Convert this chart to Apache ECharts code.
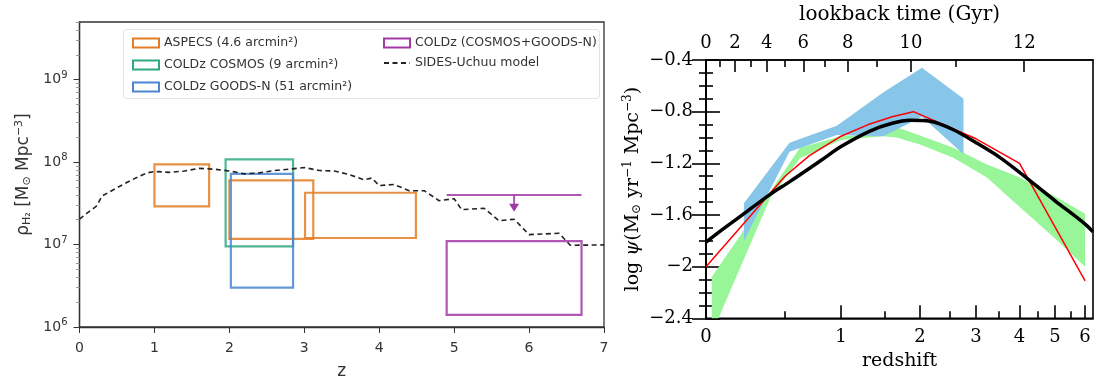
<!DOCTYPE html>
<html>
<head>
<meta charset="utf-8">
<script src="https://cdn.jsdelivr.net/npm/echarts@6.0.0/dist/echarts.min.js"></script>
<style>
  html, body { margin: 0; padding: 0; background: #fff; }
  #chart { width: 1097px; height: 385px; }
</style>
</head>
<body>
<div id="chart"></div>
<script>
// ---- left panel: molecular gas density (boxes are [zmin, zmax] x [rhoMin, rhoMax])
var aspecsZ = [[1.0, 1.73], [2.0, 3.12], [3.01, 4.49]];
var aspecsRho = [[2.9e7, 9.4e7], [1.17e7, 6.0e7], [1.2e7, 4.25e7]];
var cosmosZ = [[1.95, 2.85]];
var cosmosRho = [[9.5e6, 1.08e8]];
var goodsZ = [[2.02, 2.85]];
var goodsRho = [[3.0e6, 7.2e7]];
var combinedZ = [[4.9, 6.7]];
var combinedRho = [[1.4e6, 1.1e7]];
var limitZ = [4.9, 6.7];
var limitRho = 4.0e7;
var arrowZ = 5.8;
var arrowTipRho = 2.8e7;

var sidesZ = [0, 0.1, 0.23, 0.3, 0.5, 0.7, 0.9, 1.0, 1.2, 1.4, 1.6, 1.8, 2.0, 2.2, 2.4, 2.6, 2.8, 3.0,
  3.2, 3.4, 3.6, 3.8, 3.9, 4.0, 4.2, 4.4, 4.6, 4.8, 5.0, 5.1, 5.4, 5.6, 5.8, 6.0, 6.4, 6.55, 7.0];
var sidesRho = [2.03e7, 2.4e7, 2.94e7, 3.87e7, 4.88e7, 6.1e7, 7.4e7, 7.7e7, 7.5e7, 7.8e7, 8.4e7, 8.2e7,
  7.8e7, 7.2e7, 7.4e7, 7.9e7, 8.2e7, 8.6e7, 7.9e7, 7.8e7, 7.05e7, 6.1e7, 6.4e7, 5.2e7, 5.35e7, 4.5e7,
  4.5e7, 3.4e7, 3.6e7, 2.65e7, 2.75e7, 1.94e7, 2.03e7, 1.32e7, 1.37e7, 9.8e6, 9.9e6];

var rhoMajor = [1e6, 1e7, 1e8, 1e9];
var rhoMinor = [];
[1e6, 1e7, 1e8, 1e9].forEach(function (d) {
  for (var k = 2; k <= 9; k++) { if (k * d <= 5e9) rhoMinor.push(k * d); }
});

// ---- right panel: star formation rate density vs redshift
var blueZ = [0.215, 0.535, 0.957, 1.487, 2.03, 2.75];
var blueHi = [-1.51, -1.04, -0.91, -0.65, -0.46, -0.70];
var blueLo = [-1.80, -1.11, -0.98, -0.99, -0.84, -1.13];

var greenZ = [0.03, 0.39, 0.62, 1.0, 1.49, 1.66, 2.0, 2.56, 3.23, 4.01, 4.95, 6.0];
var greenHi = [-2.08, -1.42, -1.08, -0.99, -0.97, -0.92, -0.985, -1.08, -1.21, -1.31, -1.45, -1.59];
var greenLo = [-2.52, -1.47, -1.16, -1.02, -0.99, -1.0, -1.054, -1.156, -1.31, -1.54, -1.77, -2.0];

var redZ = [0, 0.5, 0.7, 1.0, 1.3, 1.6, 1.9, 3.0, 4.0, 6.0];
var redPsi = [-2.0, -1.30, -1.14, -0.99, -0.90, -0.84, -0.80, -1.01, -1.2, -2.11];

var blackZ = [0, 0.1, 0.215, 0.39, 0.54, 0.8, 1.0, 1.32, 1.6, 1.85, 2.16, 2.56, 3.0, 3.5, 4.0, 5.0, 6.0, 6.29];
var blackPsi = [-1.81, -1.70, -1.59, -1.44, -1.34, -1.18, -1.07, -0.95, -0.89, -0.867, -0.875, -0.94,
  -1.04, -1.15, -1.27, -1.49, -1.67, -1.73];

var zMajor = [0, 1, 2, 3, 4, 5, 6];
var zMinor = [0.5, 1.5, 2.5, 3.5, 4.5, 5.5];
var lookbackMajor = [0, 2, 4, 6, 8, 10, 12];
var lookbackMajorZ = [0, 0.16, 0.366, 0.648, 1.07, 1.864, 4.12];
var lookbackMinorZ = [0.0745, 0.258, 0.5, 0.836, 1.404, 2.61];
var zMax = 6.29;

var toX = function (z) { return Math.log10(1 + z); };

var colors = {
  aspecs: '#e37c26', cosmos: '#2fa983', goods: '#4a86d1', combined: '#a23aa6',
  blue: '#87c6e8', green: '#98f598'
};

function boxSeries(name, zs, rhos, color) {
  return {
    name: name, type: 'custom', xAxisIndex: 0, yAxisIndex: 0,
    data: zs.map(function (z, i) { return [z[0], z[1], rhos[i][0], rhos[i][1]]; }),
    encode: { x: [0, 1], y: [2, 3] },
    itemStyle: { color: color },
    renderItem: function (params, api) {
      var p0 = api.coord([api.value(0), api.value(3)]);
      var p1 = api.coord([api.value(1), api.value(2)]);
      return {
        type: 'rect',
        shape: { x: p0[0], y: p0[1], width: p1[0] - p0[0], height: p1[1] - p0[1] },
        style: { fill: 'none', stroke: color, lineWidth: 2.2, opacity: 0.85 }
      };
    }
  };
}

function bandSeries(zs, hi, lo, color) {
  var pts = [];
  zs.forEach(function (z, i) { pts.push([toX(z), hi[i]]); });
  for (var i = zs.length - 1; i >= 0; i--) pts.push([toX(zs[i]), lo[i]]);
  return {
    type: 'custom', xAxisIndex: 1, yAxisIndex: 2, clip: true, silent: true,
    data: pts,
    renderItem: function (params, api) {
      if (params.dataIndex !== 0) return null;
      return {
        type: 'polygon',
        shape: { points: pts.map(function (p) { return api.coord(p); }) },
        style: { fill: color }
      };
    }
  };
}

var fontL = 'DejaVu Sans';
var fontR = 'DejaVu Serif';
var ink = '#333';

var chart = echarts.init(document.getElementById('chart'));

var option = {
  animation: false,
  backgroundColor: '#fff',
  grid: [
    { left: 79.5, top: 22, width: 524.5, height: 309, show: true, borderColor: ink, borderWidth: 1.3 },
    { left: 706, top: 58.3, width: 387, height: 260, show: true, borderColor: '#000', borderWidth: 1.6 }
  ],
  graphic: [{
    type: 'rect', left: 123, top: 29, z: 1,
    shape: { width: 476, height: 69, r: 3 },
    style: { fill: 'rgba(255,255,255,0.85)', stroke: '#e4e4e4', lineWidth: 1 }
  }],
  legend: [
    {
      left: 127, top: 31, orient: 'vertical', itemWidth: 26, itemHeight: 9, itemGap: 8, itemTextGap: 10,
      textStyle: { fontFamily: fontL, fontSize: 12.5, color: ink, lineHeight: 14 },
      data: [
        { name: 'ASPECS (4.6 arcmin²)', icon: 'rect', itemStyle: { color: '#fff', borderColor: colors.aspecs, borderWidth: 2 } },
        { name: 'COLDz COSMOS (9 arcmin²)', icon: 'rect', itemStyle: { color: '#fff', borderColor: colors.cosmos, borderWidth: 2 } },
        { name: 'COLDz GOODS-N (51 arcmin²)', icon: 'rect', itemStyle: { color: '#fff', borderColor: colors.goods, borderWidth: 2 } }
      ]
    },
    {
      left: 378, top: 31, orient: 'vertical', itemWidth: 26, itemHeight: 9, itemGap: 6, itemTextGap: 10,
      textStyle: { fontFamily: fontL, fontSize: 12.5, color: ink, lineHeight: 14 },
      data: [
        { name: 'COLDz (COSMOS+GOODS-N)', icon: 'rect', itemStyle: { color: '#fff', borderColor: colors.combined, borderWidth: 2 } },
        { name: 'SIDES-Uchuu model', itemStyle: { color: 'rgba(0,0,0,0)', borderWidth: 0, opacity: 0 } }
      ]
    }
  ],
  xAxis: [
    {
      gridIndex: 0, type: 'value', min: 0, max: 7, interval: 1,
      axisLine: { lineStyle: { color: ink, width: 1.3 } },
      axisTick: { length: 6, lineStyle: { color: ink } },
      axisLabel: { fontFamily: fontL, fontSize: 14, color: ink, margin: 14 },
      splitLine: { show: false },
      name: 'z', nameLocation: 'middle', nameGap: 36,
      nameTextStyle: { fontFamily: fontL, fontSize: 17, color: ink }
    },
    {
      gridIndex: 1, type: 'value', min: 0, max: toX(zMax), position: 'bottom',
      axisLine: { lineStyle: { color: '#000', width: 1.6 } },
      axisTick: { inside: true, length: 13, customValues: zMajor.map(toX), lineStyle: { color: '#000', width: 1.6 } },
      axisLabel: {
        customValues: zMajor.map(toX), margin: 10, fontFamily: fontR, fontSize: 18, color: '#000',
        formatter: function (v) { return String(Math.round(Math.pow(10, v) - 1)); }
      },
      splitLine: { show: false },
      name: 'redshift', nameLocation: 'middle', nameGap: 31,
      nameTextStyle: { fontFamily: fontR, fontSize: 19, color: '#000' }
    },
    {
      gridIndex: 1, type: 'value', min: 0, max: toX(zMax), position: 'bottom',
      axisLine: { show: false },
      axisTick: { inside: true, length: 7, customValues: zMinor.map(toX), lineStyle: { color: '#000', width: 1.6 } },
      axisLabel: { show: false }, splitLine: { show: false }
    },
    {
      gridIndex: 1, type: 'value', min: 0, max: toX(zMax), position: 'top',
      axisLine: { lineStyle: { color: '#000', width: 1.6 } },
      axisTick: { inside: true, length: 12, customValues: lookbackMajorZ.map(toX), lineStyle: { color: '#000', width: 1.6 } },
      axisLabel: {
        customValues: lookbackMajorZ.map(toX), margin: 8, fontFamily: fontR, fontSize: 18, color: '#000',
        formatter: function (v) {
          for (var i = 0; i < lookbackMajorZ.length; i++) {
            if (Math.abs(toX(lookbackMajorZ[i]) - v) < 1e-6) return String(lookbackMajor[i]);
          }
          return '';
        }
      },
      splitLine: { show: false },
      name: 'lookback time (Gyr)', nameLocation: 'middle', nameGap: 35,
      nameTextStyle: { fontFamily: fontR, fontSize: 20, color: '#000' }
    },
    {
      gridIndex: 1, type: 'value', min: 0, max: toX(zMax), position: 'top',
      axisLine: { show: false },
      axisTick: { inside: true, length: 7, customValues: lookbackMinorZ.map(toX), lineStyle: { color: '#000', width: 1.6 } },
      axisLabel: { show: false }, splitLine: { show: false }
    }
  ],
  yAxis: [
    {
      gridIndex: 0, type: 'log', logBase: 10, min: 1e6, max: 5e9, position: 'left',
      axisLine: { lineStyle: { color: ink, width: 1.3 } },
      axisTick: { length: 6, customValues: rhoMajor, lineStyle: { color: ink } },
      axisLabel: {
        customValues: rhoMajor, margin: 12,
        formatter: function (v) { return '{b|10}{s|' + Math.round(Math.log10(v)) + '}'; },
        rich: {
          b: { fontFamily: fontL, fontSize: 14, color: ink },
          s: { fontFamily: fontL, fontSize: 10, color: ink, padding: [0, 0, 9, 0] }
        }
      },
      splitLine: { show: false },
      name: '{t|ρ}{sub|H₂}{t| [M}{sub|⊙}{t| Mpc}{sup|−3}{t|]}',
      nameLocation: 'middle', nameGap: 46, nameRotate: 90,
      nameTextStyle: {
        rich: {
          t: { fontFamily: fontL, fontSize: 17, color: ink },
          sub: { fontFamily: fontL, fontSize: 11, color: ink, padding: [8, 0, 0, 0] },
          sup: { fontFamily: fontL, fontSize: 11, color: ink, padding: [0, 0, 9, 0] }
        }
      }
    },
    {
      gridIndex: 0, type: 'log', logBase: 10, min: 1e6, max: 5e9, position: 'left',
      axisLine: { show: false },
      axisTick: { length: 3.5, customValues: rhoMinor, lineStyle: { color: '#999' } },
      axisLabel: { show: false }, splitLine: { show: false }
    },
    {
      gridIndex: 1, type: 'value', min: -2.4, max: -0.4, interval: 0.4, position: 'left',
      axisLine: { lineStyle: { color: '#000', width: 1.6 } },
      axisTick: { inside: true, length: 14, lineStyle: { color: '#000', width: 1.6 } },
      minorTick: { show: true, splitNumber: 4, length: 7, lineStyle: { color: '#000', width: 1.6 } },
      axisLabel: {
        margin: 13, fontFamily: fontR, fontSize: 18, color: '#000',
        formatter: function (v) { return (v < 0 ? '−' : '') + Math.abs(+v.toFixed(1)); }
      },
      splitLine: { show: false },
      name: '{t|log }{g|ψ}{t|(M}{sub|⊙}{t| yr}{sup|−1}{t| Mpc}{sup|−3}{t|)}',
      nameLocation: 'middle', nameGap: 62, nameRotate: 90,
      nameTextStyle: {
        rich: {
          t: { fontFamily: fontR, fontSize: 19, color: '#000' },
          g: { fontFamily: fontR, fontSize: 19, color: '#000', fontStyle: 'italic' },
          sub: { fontFamily: fontR, fontSize: 12, color: '#000', padding: [8, 0, 0, 0] },
          sup: { fontFamily: fontR, fontSize: 12, color: '#000', padding: [0, 0, 10, 0] }
        }
      }
    },
    {
      gridIndex: 1, type: 'value', min: -2.4, max: -0.4, interval: 0.4, position: 'right',
      axisLine: { lineStyle: { color: '#000', width: 1.6 } },
      axisTick: { inside: true, length: 14, lineStyle: { color: '#000', width: 1.6 } },
      minorTick: { show: true, splitNumber: 4, length: 7, lineStyle: { color: '#000', width: 1.6 } },
      axisLabel: { show: false }, splitLine: { show: false }
    }
  ],
  series: [
    boxSeries('ASPECS (4.6 arcmin²)', aspecsZ, aspecsRho, colors.aspecs),
    boxSeries('COLDz COSMOS (9 arcmin²)', cosmosZ, cosmosRho, colors.cosmos),
    boxSeries('COLDz GOODS-N (51 arcmin²)', goodsZ, goodsRho, colors.goods),
    boxSeries('COLDz (COSMOS+GOODS-N)', combinedZ, combinedRho, colors.combined),
    {
      type: 'line', xAxisIndex: 0, yAxisIndex: 0, symbol: 'none', silent: true,
      data: [[limitZ[0], limitRho], [limitZ[1], limitRho]],
      lineStyle: { color: colors.combined, width: 2, opacity: 0.85 }
    },
    {
      type: 'line', xAxisIndex: 0, yAxisIndex: 0, silent: true, showSymbol: true,
      data: [
        { value: [arrowZ, limitRho], symbol: 'none' },
        { value: [arrowZ, arrowTipRho], symbol: 'triangle', symbolRotate: 180, symbolSize: [10, 8] }
      ],
      itemStyle: { color: colors.combined },
      lineStyle: { color: colors.combined, width: 2, opacity: 0.85 }
    },
    {
      name: 'SIDES-Uchuu model', type: 'line', xAxisIndex: 0, yAxisIndex: 0, symbol: 'none',
      data: sidesZ.map(function (z, i) { return [z, sidesRho[i]]; }),
      itemStyle: { color: '#222' },
      lineStyle: { color: '#222', width: 1.6, type: [5, 3.5] }
    },
    bandSeries(greenZ, greenHi, greenLo, colors.green),
    bandSeries(blueZ, blueHi, blueLo, colors.blue),
    {
      type: 'line', xAxisIndex: 1, yAxisIndex: 2, symbol: 'none', silent: true,
      data: redZ.map(function (z, i) { return [toX(z), redPsi[i]]; }),
      lineStyle: { color: '#ff0000', width: 1.5 }
    },
    {
      type: 'line', xAxisIndex: 1, yAxisIndex: 2, symbol: 'none', silent: true, smooth: 0.3,
      data: blackZ.map(function (z, i) { return [toX(z), blackPsi[i]]; }),
      lineStyle: { color: '#000', width: 3.5 }
    }
  ]
};

chart.setOption(option);
</script>
</body>
</html>
